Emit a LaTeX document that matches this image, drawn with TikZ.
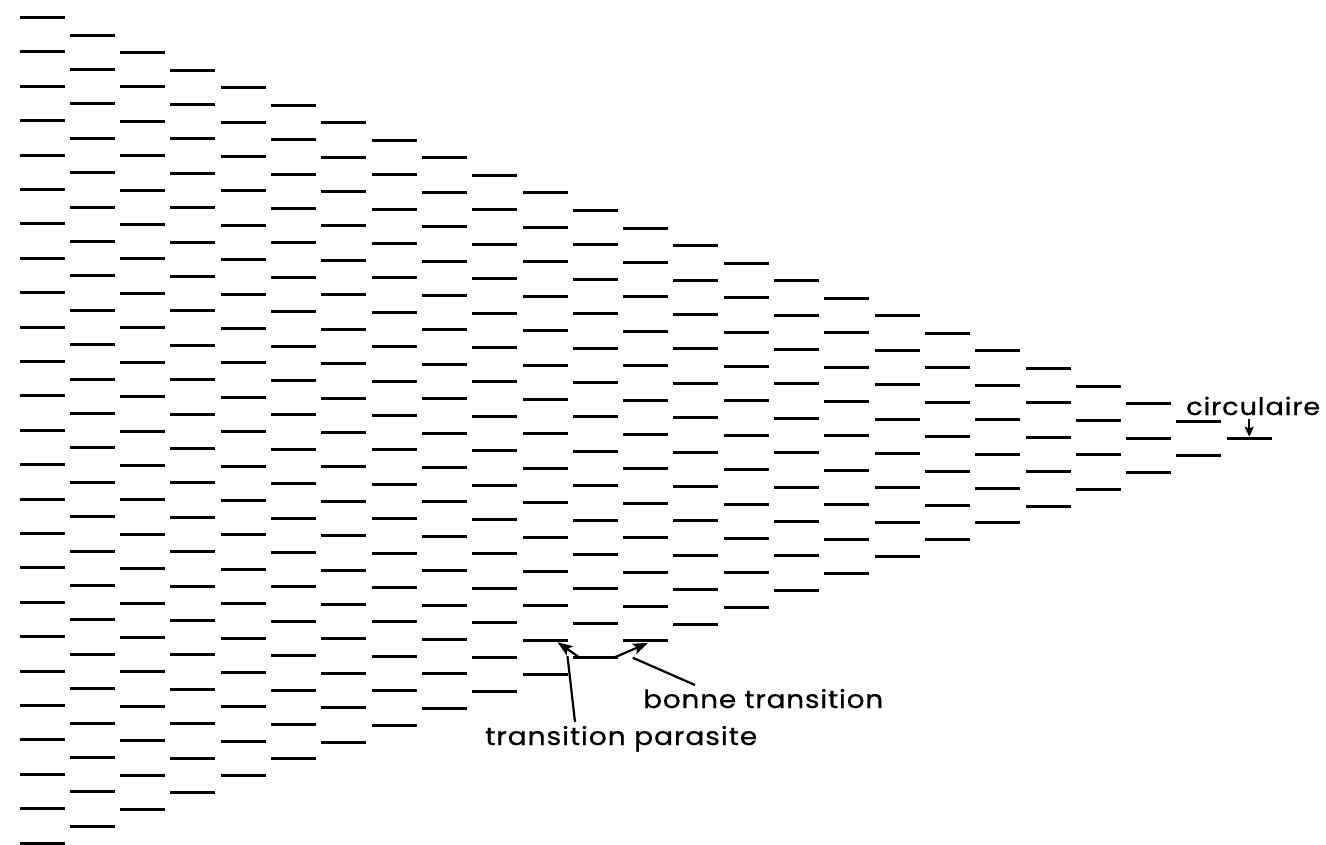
\documentclass[tikz,border=0pt]{standalone}
\usepackage{fontspec}
\usepackage{graphicx}
\newfontfamily\plotfont[LetterSpace=3,FakeBold=0.6]{Poppins}
\usetikzlibrary{arrows.meta,calc}
\begin{document}
\begin{tikzpicture}[x=1pt,y=-1pt,
  level/.style={line width=3pt},
  leader/.style={line width=2.2pt},
  trans/.style={line width=2.2pt,-{Stealth[length=15pt,width=11pt,inset=3pt]}},
  down/.style={line width=2.2pt,-{Stealth[length=10pt,width=9pt,inset=2pt]}},
  lbl/.style={inner sep=0pt,anchor=base west}]
\useasboundingbox (0,0) rectangle (1326,845);
% energy levels: column k has 25-k levels
\foreach \k in {0,...,24}{
  \pgfmathtruncatemacro{\jmax}{24-\k}
  \foreach \j in {0,...,\jmax}{
    \coordinate (L-\k-\j) at ({19.5+50.3*\k},{17.5+17.55*\k+34.4*\j});
    \coordinate (R-\k-\j) at ({64.5+50.3*\k},{17.5+17.55*\k+34.4*\j});
    \draw[level] (L-\k-\j) -- (R-\k-\j);
  }
}
% transitions
\draw[trans] ($(L-11-13)+(7,0)$) -- ($(R-10-13)+(-10,2)$);
\draw[trans] ($(R-11-13)+(-4,0)$) -- ($(L-12-12)+(25,2)$);
% labels
\node[lbl] (par) at (485,745) {\resizebox{272pt}{\height}{\plotfont\fontsize{25}{25}\selectfont transition parasite}};
\node[lbl] (bon) at (643,708) {\resizebox{240pt}{\height}{\plotfont\fontsize{25}{25}\selectfont bonne transition}};
\node[lbl] (circ) at (1186,415) {\resizebox{134pt}{\height}{\plotfont\fontsize{24}{24}\selectfont circulaire}};
\coordinate (parEnd) at (575,722);
\coordinate (bonEnd) at (695,685);
\draw[leader] ($(R-10-13)+(0,16)$) -- (parEnd);
\draw[leader] ($(R-11-13)+(15,0)$) -- (bonEnd);
\coordinate (cMid) at ($(L-24-0)!0.5!(R-24-0)$);
\draw[down] ($(cMid)+(0,-20)$) -- ($(cMid)+(0,-2)$);
\end{tikzpicture}
\end{document}
